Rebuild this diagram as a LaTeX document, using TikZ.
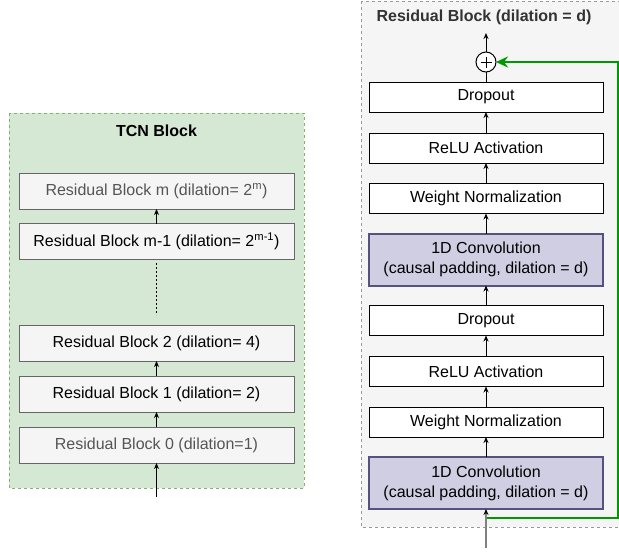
\documentclass[tikz,border=0pt]{standalone}
\usepackage{fontspec}
\setmainfont{Liberation Sans}
\usetikzlibrary{arrows.meta}
\definecolor{tcnfill}{HTML}{D5E8D4}
\definecolor{tcnline}{HTML}{82B366}
\definecolor{resfill}{HTML}{F5F5F5}
\definecolor{resline}{HTML}{999999}
\definecolor{boxfill}{HTML}{F5F5F5}
\definecolor{boxline}{HTML}{666666}
\definecolor{softtext}{HTML}{555555}
\definecolor{convfill}{HTML}{D0CEE2}
\definecolor{convline}{HTML}{56517E}
\definecolor{skipgreen}{HTML}{009900}
\definecolor{inputgray}{HTML}{808080}
\begin{document}
\begin{tikzpicture}[x=1pt,y=-1pt,
  font=\fontsize{16}{20}\selectfont,
  panel/.style={line width=1pt, dash pattern=on 3pt off 3pt},
  resbox/.style={draw=boxline, fill=boxfill, line width=1pt, minimum width=275pt,
    minimum height=36pt, inner sep=0pt, outer sep=0pt},
  layer/.style={draw=black, fill=white, line width=1pt, minimum width=234pt,
    minimum height=30pt, inner sep=0pt, outer sep=0pt},
  convbox/.style={layer, draw=convline, fill=convfill, line width=2pt,
    minimum height=52pt, align=center},
  flow/.style={-{Stealth[length=6pt,width=5pt]}, line width=1pt},
  skip/.style={-{Stealth[length=12pt,width=11pt]}, draw=skipgreen, line width=2pt},
  sumnode/.style={circle, draw=black, fill=white, line width=1pt, minimum size=20pt,
    inner sep=0pt, outer sep=0pt}]
\useasboundingbox (0,0) rectangle (619,552);

% TCN block panel
\fill[tcnfill] (9,113) rectangle (304,488);
\draw[panel, draw=tcnline] (9,113) rectangle (304,488);
\node[font=\fontsize{16}{20}\selectfont\bfseries] (tcntitle) at (156.5,131) {TCN Block};

\node[resbox, text=softtext] (bm) at (156.5,191) {Residual Block m (dilation= 2\textsuperscript{m})};
\node[resbox] (bm1) at (156.5,241.5) {Residual Block m-1 (dilation= 2\textsuperscript{m-1})};
\node[resbox] (b2) at (156.5,343) {Residual Block 2 (dilation= 4)};
\node[resbox] (b1) at (156.5,394) {Residual Block 1 (dilation= 2)};
\node[resbox, text=softtext] (b0) at (156.5,445) {Residual Block 0 (dilation=1)};

\coordinate (dotA) at (156.5,263);
\coordinate (dotB) at (156.5,315);
\coordinate (tcnin) at (156.5,497);

\draw[flow] (bm1) -- (bm);
\draw[line width=1pt, dash pattern=on 2pt off 2pt] (dotA) -- (dotB);
\draw[flow] (b1) -- (b2);
\draw[flow] (b0) -- (b1);
\draw[flow] (tcnin) -- (b0);

% Residual block panel
\fill[resfill] (361,1) rectangle (625,527);
\draw[panel, draw=resline] (361,1) rectangle (625,527);
\node[font=\fontsize{16}{20}\selectfont\bfseries, text=black!80] (restitle) at (484,17) {Residual Block (dilation = d)};

\node[sumnode] (sum) at (486,62) {};
\draw[line width=1pt] ([xshift=-5.5pt]sum.center) -- ([xshift=5.5pt]sum.center)
  ([yshift=-5.5pt]sum.center) -- ([yshift=5.5pt]sum.center);

\node[layer] (drop1) at (486,97) {Dropout};
\node[layer] (relu1) at (486,148) {ReLU Activation};
\node[layer] (wn1) at (486,198.5) {Weight Normalization};
\node[convbox] (conv1) at (486,259.5) {1D Convolution\\(causal padding, dilation = d)};
\node[layer] (drop2) at (486,320.5) {Dropout};
\node[layer] (relu2) at (486,371.5) {ReLU Activation};
\node[layer] (wn2) at (486,422) {Weight Normalization};
\node[convbox] (conv2) at (486,483) {1D Convolution\\(causal padding, dilation = d)};

\coordinate (resout) at (486,33);
\coordinate (resin) at (486,548);
\coordinate (split) at (486,518);
\coordinate (skipcorner) at (618,518);

\draw[flow] (sum) -- (resout);
\draw[line width=1pt] (drop1) -- (sum);
\draw[flow] (relu1) -- (drop1);
\draw[flow] (wn1) -- (relu1);
\draw[flow] (conv1) -- (wn1);
\draw[flow] (drop2) -- (conv1);
\draw[flow] (relu2) -- (drop2);
\draw[flow] (wn2) -- (relu2);
\draw[flow] (conv2) -- (wn2);
\draw[skip] (split) -- (skipcorner) |- (sum);
\draw[line width=1.5pt, draw=inputgray, -{Stealth[length=6pt,width=5pt,black]}] (resin) -- (conv2);
\end{tikzpicture}
\end{document}
